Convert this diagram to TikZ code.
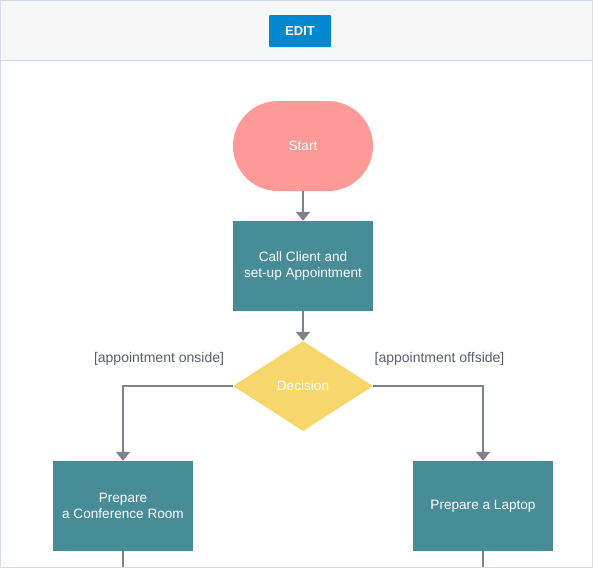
\documentclass[tikz,border=0pt]{standalone}
\usepackage{fontspec}
\setmainfont{Liberation Sans}
\usetikzlibrary{shapes.geometric,arrows.meta}
\definecolor{headbg}{HTML}{F7F7F7}
\definecolor{bordercol}{HTML}{D6DCE6}
\definecolor{btnblue}{HTML}{0288D1}
\definecolor{startcol}{HTML}{FF9A98}
\definecolor{tealcol}{HTML}{478C97}
\definecolor{deccol}{HTML}{F7D66B}
\definecolor{linecol}{HTML}{7D8290}
\definecolor{labelcol}{HTML}{5A5E6E}
\begin{document}
\begin{tikzpicture}[x=1pt,y=-1pt,
  every node/.style={font=\fontsize{13.6}{16}\selectfont},
  procbox/.style={rectangle,fill=tealcol,text=white,minimum width=140pt,minimum height=90pt,inner sep=0pt,align=center},
  startbox/.style={rectangle,rounded corners=45pt,fill=startcol,text=white,minimum width=140pt,minimum height=90pt,inner sep=0pt},
  decbox/.style={diamond,fill=deccol,text=white,minimum width=140pt,minimum height=90pt,inner sep=0pt,aspect=1.556},
  conn/.style={draw=linecol,line width=2pt,-{Triangle[width=14pt,length=9pt]}},
  plainline/.style={draw=linecol,line width=2pt},
  guard/.style={text=labelcol,inner sep=0pt,font=\fontsize{14}{16}\selectfont}]
\useasboundingbox (0,0) rectangle (593,568);
\fill[headbg] (0,0) rectangle (593,60);
\draw[bordercol,line width=1pt] (0,60.5) -- (593,60.5);
\node[fill=btnblue,text=white,minimum width=62pt,minimum height=32pt,inner sep=0pt,rounded corners=1pt,font=\fontsize{13}{14}\bfseries] (edit) at (300,31) {EDIT};
\node[startbox] (start) at (303,146) {Start};
\node[procbox] (call) at (303,266) {Call Client and\\set-up Appointment};
\node[decbox] (dec) at (303,386) {Decision};
\node[procbox] (room) at (123,506) {Prepare\\a Conference Room};
\node[procbox] (laptop) at (483,506) {Prepare a Laptop};
\node[guard] (lon) at (159,359) {[appointment onside]};
\node[guard] (loff) at (439.5,359) {[appointment offside]};
\coordinate (rb) at (123,568);
\coordinate (lb) at (483,568);
\draw[conn] (start) -- (call);
\draw[conn] (call) -- (dec);
\draw[conn] (dec.west) -| (room.north);
\draw[conn] (dec.east) -| (laptop.north);
\draw[plainline] (room.south) -- (rb);
\draw[plainline] (laptop.south) -- (lb);
\draw[bordercol,line width=1pt] (0.5,0.5) rectangle (592.5,567.5);
\end{tikzpicture}
\end{document}
